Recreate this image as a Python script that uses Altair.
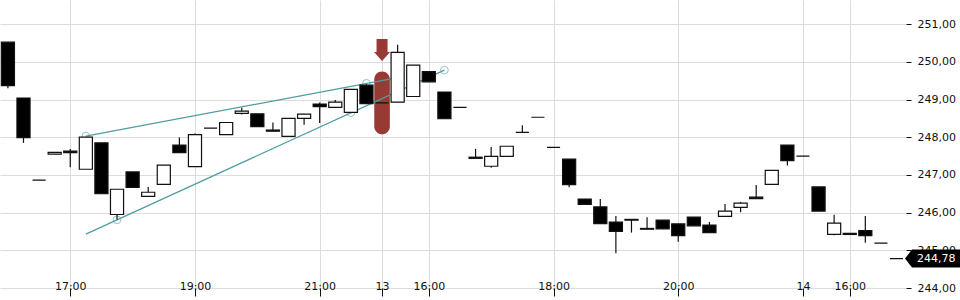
import altair as alt
import pandas as pd

# ---- data (15-minute candles, index = bar number) ----
opens  = [250.52, 249.04, 246.86, 247.55, 247.63, 247.15, 247.85, 245.95, 247.08, 246.43,
          246.75, 247.79, 247.22, 248.24, 248.07, 248.63, 248.62, 248.19, 248.02, 248.50,
          248.88, 248.79, 248.66, 249.38, 248.91, 248.93, 249.08, 249.74, 249.20, 248.79,
          247.47, 247.23, 247.49, 248.13, 248.53, 247.73, 247.42, 246.36, 246.15, 245.75,
          245.82, 245.58, 245.80, 245.70, 245.88, 245.67, 245.90, 246.14, 246.41, 246.75,
          247.79, 247.50, 246.68, 245.42, 245.45, 245.52, 245.19, 244.78]
highs  = [250.52, 249.04, 246.86, 247.60, 247.69, 248.00, 247.85, 246.62, 247.08, 246.68,
          247.26, 247.99, 248.10, 248.24, 248.39, 248.78, 248.62, 248.39, 248.50, 248.61,
          248.92, 248.99, 249.27, 249.41, 248.91, 250.45, 249.91, 249.74, 249.20, 248.79,
          247.69, 247.74, 247.76, 248.32, 248.53, 247.73, 247.42, 246.36, 246.36, 245.91,
          245.82, 245.88, 245.80, 245.70, 245.88, 245.75, 246.23, 246.28, 246.73, 247.12,
          247.79, 247.50, 246.68, 245.94, 245.45, 245.91, 245.19, 244.78]
lows   = [249.30, 247.85, 246.86, 247.55, 247.20, 247.15, 246.50, 245.82, 246.67, 246.43,
          246.75, 247.59, 247.22, 248.24, 248.07, 248.60, 248.28, 248.16, 248.02, 248.33,
          248.38, 248.79, 248.66, 248.89, 248.91, 248.93, 249.08, 249.47, 248.49, 248.79,
          247.44, 247.19, 247.49, 248.13, 248.53, 247.73, 246.67, 246.22, 245.71, 244.92,
          245.47, 245.56, 245.57, 245.23, 245.65, 245.47, 245.90, 246.01, 246.37, 246.75,
          247.25, 247.50, 246.04, 245.40, 245.42, 245.20, 245.19, 244.78]
closes = [249.37, 247.99, 246.86, 247.60, 247.59, 248.00, 246.50, 246.62, 246.67, 246.54,
          247.26, 247.59, 248.07, 248.24, 248.39, 248.69, 248.28, 248.16, 248.50, 248.61,
          248.81, 248.93, 249.27, 248.89, 248.91, 250.25, 249.91, 249.47, 248.49, 248.79,
          247.44, 247.49, 247.76, 248.13, 248.53, 247.73, 246.74, 246.22, 245.71, 245.50,
          245.80, 245.56, 245.57, 245.39, 245.65, 245.47, 246.04, 246.25, 246.37, 247.12,
          247.38, 247.50, 246.04, 245.72, 245.42, 245.39, 245.19, 244.78]

tick_idx    = [4, 12, 20, 24, 27, 35, 43, 51, 54]
tick_labels = ["17:00", "19:00", "21:00", "13", "16:00", "18:00", "20:00", "14", "16:00"]
y_ticks     = [244, 245, 246, 247, 248, 249, 250, 251]

upper_idx = [5, 25]
upper_val = [248.03, 249.58]
lower_idx = [5, 28]
lower_val = [245.43, 249.78]
anchor_idx = [5, 7, 22, 23, 28]
anchor_val = [248.03, 245.81, 248.65, 249.43, 249.78]

signal_idx = 24
signal_low = 248.08
signal_high = 249.74
arrow_val = 250.02
last_price = 244.78

# ---- tables ----
n = len(opens)
candles = pd.DataFrame({
    "i": list(range(n)), "o": opens, "h": highs, "l": lows, "c": closes,
})
candles["x0"] = candles["i"] - 0.42
candles["x1"] = candles["i"] + 0.42
candles["fill"] = ["white" if c > o else "black" for o, c in zip(opens, closes)]

trend = pd.DataFrame({
    "i": upper_idx + lower_idx,
    "v": upper_val + lower_val,
    "line": ["up"] * len(upper_idx) + ["low"] * len(lower_idx),
})
anchors = pd.DataFrame({"i": anchor_idx, "v": anchor_val})
signal = pd.DataFrame({"x0": [signal_idx - 0.5], "x1": [signal_idx + 0.5],
                       "lo": [signal_low], "hi": [signal_high],
                       "i": [signal_idx], "a": [arrow_val]})
last = pd.DataFrame({"v": [last_price], "label": [f"{last_price:.2f}".replace(".", ",")]})

FONT = "DejaVu Sans"
W, H = 906, 288
xscale = alt.Scale(domain=[-0.507, 57.61], nice=False, zero=False)
yscale = alt.Scale(domain=[244, 251.64], nice=False, zero=False)

label_expr = "".join(f"datum.value == {i} ? '{t}' : " for i, t in zip(tick_idx, tick_labels)) + "''"

xaxis = alt.Axis(values=tick_idx, labelExpr=label_expr, grid=True, gridColor="#dcdcdc",
                 gridWidth=1, domain=False, ticks=True, tickColor="#111", tickSize=8,
                 labelPadding=-10, labelBaseline="middle", labelFont=FONT, labelFontSize=11,
                 labelColor="#111", title=None, labelOverlap=False, labelFlush=False)
yaxis = alt.Axis(values=y_ticks, orient="right", grid=True, gridColor="#dcdcdc", gridWidth=1,
                 domain=False, tickColor="#111", tickSize=5, labelPadding=6,
                 labelExpr="replace(format(datum.value, '.2f'), '.', ',')",
                 labelFont=FONT, labelFontSize=11, labelColor="#111", title=None)


def X(field):
    return alt.X(field, scale=xscale, axis=xaxis)


def Y(field):
    return alt.Y(field, scale=yscale, axis=yaxis)


wicks = alt.Chart(candles).mark_rule(strokeWidth=1.2, color="#111").encode(
    x=X("i:Q"), y=Y("l:Q"), y2="h:Q",
)

pill = alt.Chart(signal).mark_rect(color="#983a34", cornerRadius=8).encode(
    x=X("x0:Q"), x2="x1:Q", y=Y("lo:Q"), y2="hi:Q",
)

arrow_path = "M0,0 L-8,-9 L-5.5,-9 L-5.5,-22 L5.5,-22 L5.5,-9 L8,-9 Z"
arrow = alt.Chart(signal).mark_point(shape=arrow_path, size=4, filled=True, color="#983a34",
                                     opacity=1, strokeWidth=0).encode(
    x=X("i:Q"), y=Y("a:Q"),
)

lines = alt.Chart(trend).mark_line(color="#4f9ca1", strokeWidth=1.2).encode(
    x=X("i:Q"), y=Y("v:Q"), detail="line:N",
)

circles = alt.Chart(anchors).mark_point(shape="circle", size=60, filled=False, color="#4f9ca1",
                                        strokeWidth=1, opacity=0.6).encode(
    x=X("i:Q"), y=Y("v:Q"),
)

bodies = alt.Chart(candles).mark_rect(stroke="#111", strokeWidth=1.2).encode(
    x=X("x0:Q"), x2="x1:Q", y=Y("o:Q"), y2="c:Q",
    fill=alt.Fill("fill:N", scale=None),
)

box_path = "M0,0 L7,-9 L55,-9 L55,9 L7,9 Z"
box = alt.Chart(last).mark_point(shape=box_path, size=4, filled=True, color="#000",
                                 opacity=1, strokeWidth=0).encode(
    x=alt.value(W - 1), y=Y("v:Q"),
)
box_text = alt.Chart(last).mark_text(align="left", baseline="middle", color="white",
                                     font=FONT, fontSize=11).encode(
    x=alt.value(W + 11), y=Y("v:Q"), text="label:N",
)

chart = alt.layer(
    pill, lines, circles, wicks, bodies, arrow, box, box_text
).properties(width=W, height=H, padding=0).configure_view(strokeWidth=0)

chart.save("out.html", embed_options={"renderer": "svg", "actions": False})
